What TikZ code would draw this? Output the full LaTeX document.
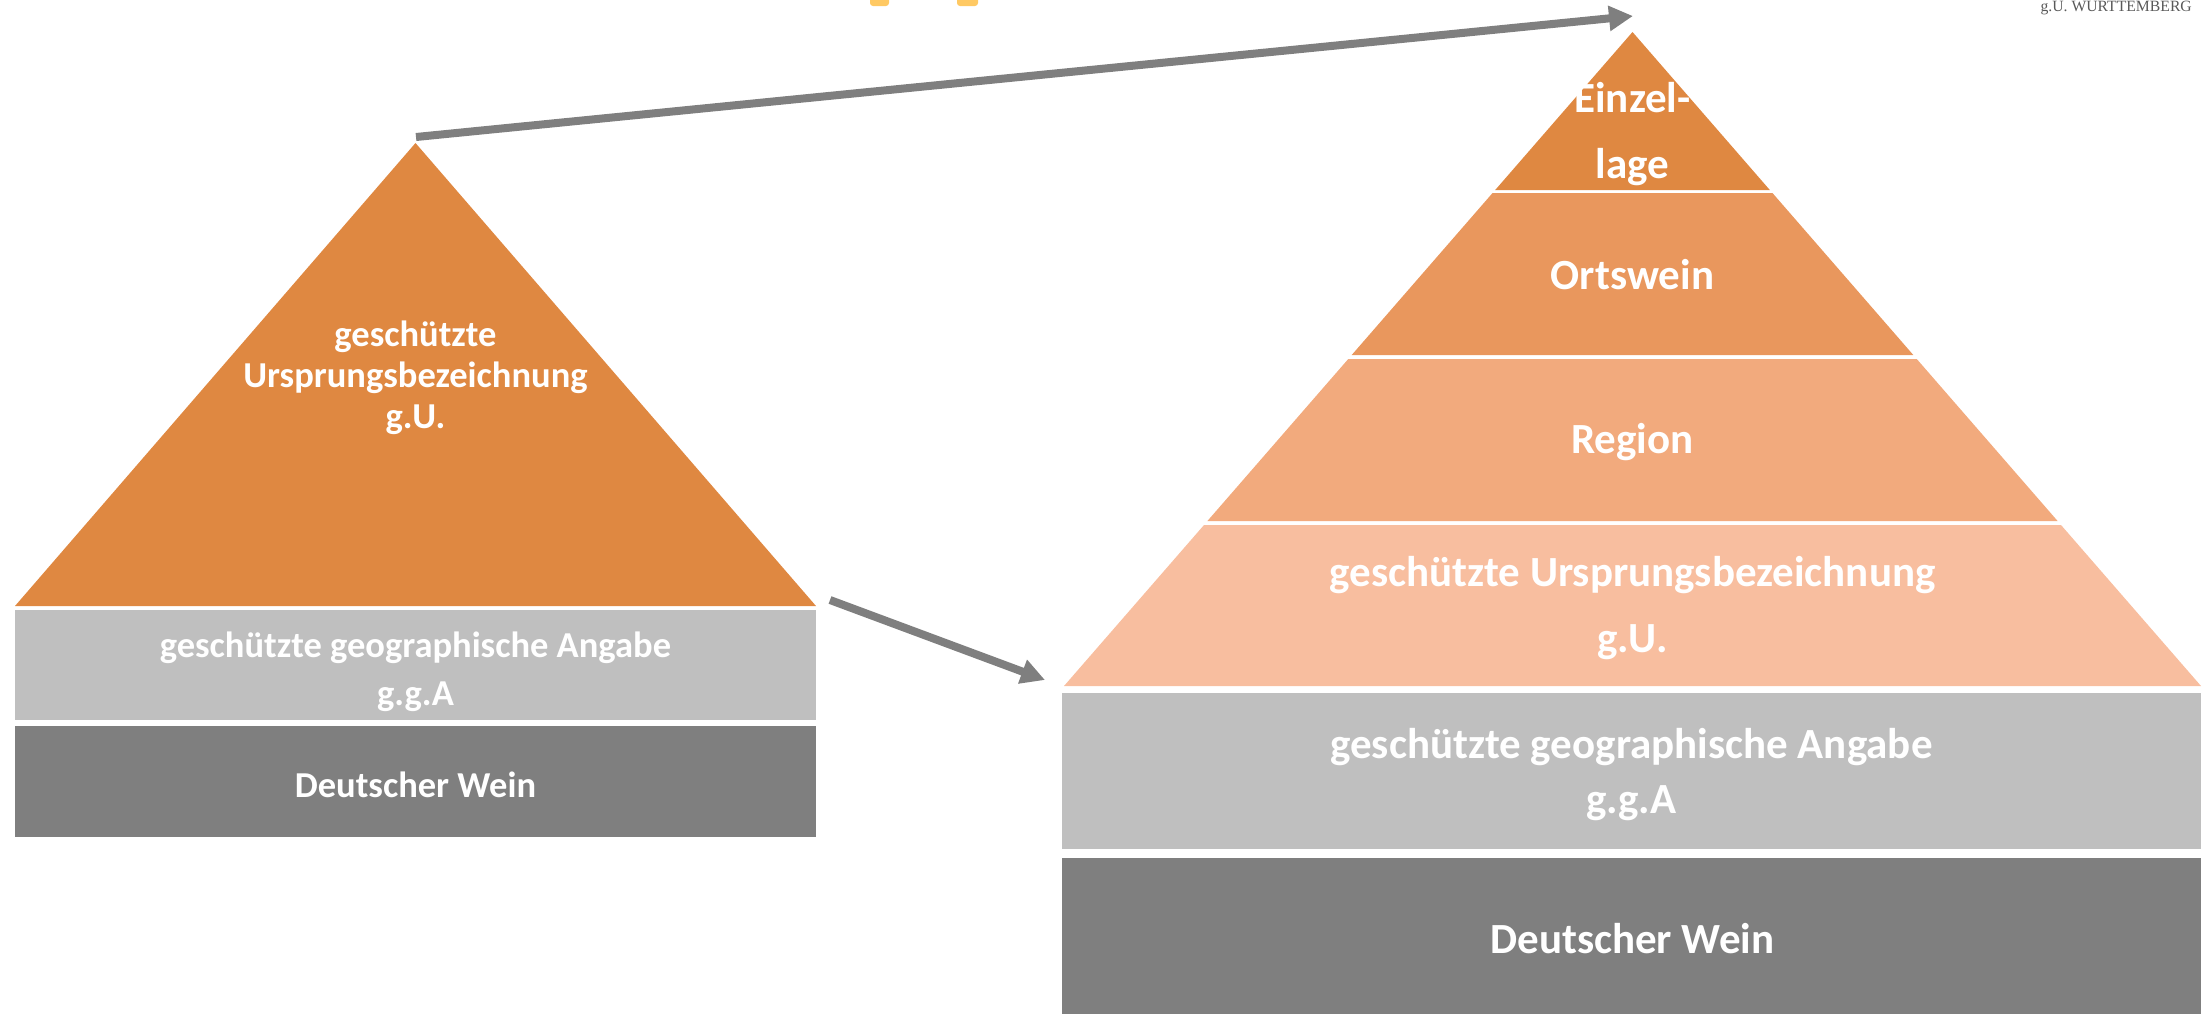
\documentclass[tikz,border=0pt]{standalone}
\usepackage{fontspec}
\setmainfont{Carlito}
\newfontfamily\serifont{Liberation Serif}
\usetikzlibrary{arrows.meta,calc}
\definecolor{or1}{HTML}{DF8841}
\definecolor{or2}{HTML}{E9975D}
\definecolor{or3}{HTML}{F2AA7D}
\definecolor{or4}{HTML}{F8BE9F}
\definecolor{lgray}{HTML}{BFBFBF}
\definecolor{dgray}{HTML}{7F7F7F}
\definecolor{ttl}{HTML}{FFC963}
\tikzset{
  band/.style={draw=none,inner sep=0pt,outer sep=0pt,anchor=north west},
  lbl/.style={text=white,font=\bfseries,align=center,inner sep=0pt},
  conn/.style={draw=dgray,line width=8pt,-{Triangle[length=24pt,width=24pt]}}
}
\begin{document}
\begin{tikzpicture}[x=1pt,y=-1pt]
\useasboundingbox (0,0) rectangle (2212,1013);
% title fragments cut at the top
\fill[ttl,rounded corners=3pt] (870,-6) rectangle (889,6);
\fill[ttl,rounded corners=3pt] (957,-6) rectangle (978,6);
\node[anchor=base east,inner sep=0pt,text=black!65,font=\serifont\fontsize{15.7}{16}\selectfont] (brand) at (2192,11) {g.U. WÜRTTEMBERG};

% ---------- left pyramid ----------
\fill[or1] (415.5,143) -- (816,606) -- (15,606) -- cycle;
\node[lbl,font=\bfseries\fontsize{36.5}{41}\selectfont] (lgu) at (415.5,378) {geschützte\\Ursprungsbezeichnung\\g.U.};
\node[band,fill=lgray,minimum width=801pt,minimum height=110pt] (lgga) at (15,610) {};
\node[lbl,font=\bfseries\fontsize{36.5}{48}\selectfont] (lggat) at ([yshift=-7pt]lgga.center) {geschützte geographische Angabe\\g.g.A};
\node[band,fill=dgray,minimum width=801pt,minimum height=111pt] (ldw) at (15,726) {};
\node[lbl,font=\bfseries\fontsize{36.5}{41}\selectfont] (ldwt) at ([yshift=-3pt]ldw.center) {Deutscher Wein};

% ---------- right pyramid ----------
\fill[or1] (1632.5,32) -- (1769.8,190) -- (1495.2,190) -- cycle;
\fill[or2] (1492.55,193) -- (1772.45,193) -- (1913.3,355) -- (1351.7,355) -- cycle;
\fill[or3] (1348.25,359) -- (1916.75,359) -- (2057.6,521) -- (1207.4,521) -- cycle;
\fill[or4] (1204,525) -- (2061,525) -- (2201,686) -- (1064,686) -- cycle;
\node[lbl,font=\bfseries\fontsize{43}{66}\selectfont] (rez) at (1632.5,134) {Einzel-\\lage};
\node[lbl,font=\bfseries\fontsize{43}{50}\selectfont] (ros) at (1632.5,275) {Ortswein};
\node[lbl,font=\bfseries\fontsize{43}{50}\selectfont] (rrg) at (1632.5,442) {Region};
\node[lbl,font=\bfseries\fontsize{43}{66}\selectfont] (rgu) at (1632.5,608) {geschützte Ursprungsbezeichnung\\g.U.};
\node[band,fill=lgray,minimum width=1139pt,minimum height=156pt] (rgga) at (1062,693) {};
\node[lbl,font=\bfseries\fontsize{43}{55}\selectfont] (rggat) at ([yshift=-4pt]rgga.center) {geschützte geographische Angabe\\g.g.A};
\node[band,fill=dgray,minimum width=1139pt,minimum height=160pt] (rdw) at (1062,858) {};
\node[lbl,font=\bfseries\fontsize{43}{50}\selectfont] (rdwt) at (1632.5,939) {Deutscher Wein};

% ---------- connectors ----------
\coordinate (a1s) at (416,137);
\coordinate (a1e) at (1633,16);
\coordinate (a2s) at (830,600);
\coordinate (a2e) at (1045,680);
\draw[conn] (a1s) -- (a1e);
\draw[conn] (a2s) -- (a2e);
\end{tikzpicture}
\end{document}
